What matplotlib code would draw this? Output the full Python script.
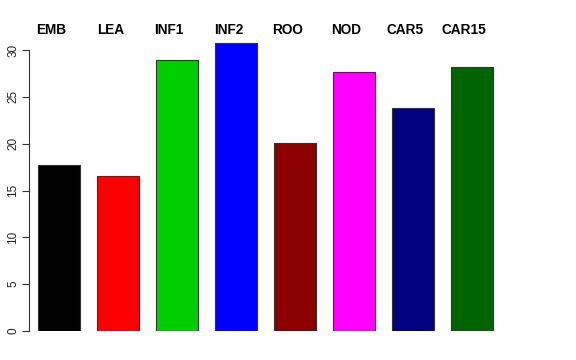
import matplotlib.pyplot as plt

plt.rcParams['font.family'] = ['Liberation Sans', 'DejaVu Sans']

groups = ['EMB', 'LEA', 'INF1', 'INF2', 'ROO', 'NOD', 'CAR5', 'CAR15']
values = [17.7, 16.5, 28.9, 30.7, 20.1, 27.7, 23.8, 28.2]
colours = ['black', 'red', '#00CD00', 'blue', '#8B0000', 'magenta', '#000080', '#006400']

fig = plt.figure(figsize=(5.76, 3.6), dpi=100)
ax = fig.add_axes([29 / 576, 29 / 360, 476 / 576, 295 / 360])

x = range(len(groups))
ax.bar(x, values, width=0.71, color=colours, edgecolor='#333333', linewidth=0.8)

ax.set_xlim(-0.508, 7.56)
ax.set_ylim(0, 31.5)
ax.set_yticks([0, 5, 10, 15, 20, 25, 30])
ax.tick_params(axis='y', labelsize=8.5, length=5, width=0.8, colors='#333333',
               labelcolor='#222222', pad=2)
for lab in ax.get_yticklabels():
    lab.set_rotation(90)
    lab.set_va('center')
ax.set_xticks([])

for s in ['top', 'right', 'bottom']:
    ax.spines[s].set_visible(False)
ax.spines['left'].set_bounds(0, 30)
ax.spines['left'].set_color('#333333')
ax.spines['left'].set_linewidth(0.8)

# group names above the bars
for i, g in enumerate(groups):
    ax.text(i - 0.13, 1.02, g, transform=ax.get_xaxis_transform(),
            ha='center', va='center', fontsize=9.8, fontweight='bold')

fig.savefig('out.png', dpi=100)
